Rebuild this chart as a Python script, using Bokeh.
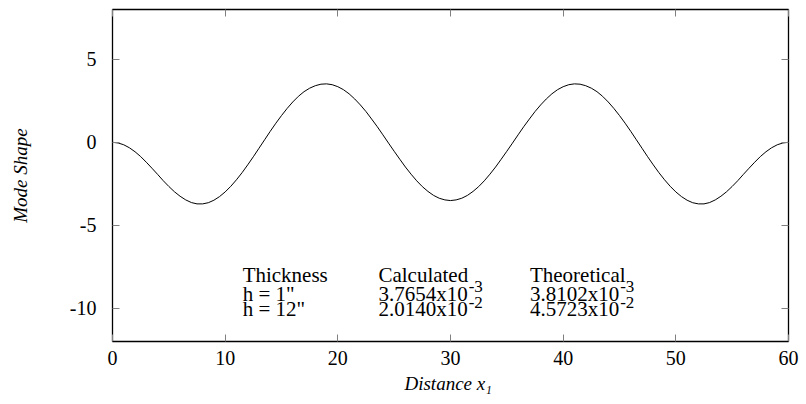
from bokeh.plotting import figure
from bokeh.models import Range1d, FixedTicker, LinearAxis, Label, CustomLabelingPolicy
from bokeh.embed import file_html
from bokeh.resources import INLINE

x_vals = [i * 0.5 for i in range(121)]
y_vals = [0.00, -0.04, -0.15, -0.33, -0.57, -0.86, -1.20, -1.56, -1.93, -2.31,
          -2.66, -2.98, -3.25, -3.47, -3.63, -3.71, -3.71, -3.64, -3.49, -3.27,
          -2.99, -2.65, -2.26, -1.83, -1.36, -0.87, -0.36, 0.15, 0.66, 1.15,
          1.61, 2.04, 2.43, 2.77, 3.05, 3.26, 3.41, 3.50, 3.52, 3.47,
          3.35, 3.17, 2.92, 2.61, 2.25, 1.85, 1.40, 0.94, 0.45, -0.05,
          -0.54, -1.02, -1.49, -1.92, -2.32, -2.67, -2.96, -3.20, -3.37, -3.47,
          -3.51,
          -3.47, -3.37, -3.20, -2.96, -2.67, -2.32, -1.92, -1.49, -1.02, -0.54,
          -0.05, 0.45, 0.94, 1.40, 1.85, 2.25, 2.61, 2.92, 3.17, 3.35,
          3.47, 3.52, 3.50, 3.41, 3.26, 3.05, 2.77, 2.43, 2.04, 1.61,
          1.15, 0.66, 0.15, -0.36, -0.87, -1.36, -1.83, -2.26, -2.65, -2.99,
          -3.27, -3.49, -3.64, -3.71, -3.71, -3.63, -3.47, -3.25, -2.98, -2.66,
          -2.31, -1.93, -1.56, -1.20, -0.86, -0.57, -0.33, -0.15, -0.04, 0.00]

x_ticks = [0, 10, 20, 30, 40, 50, 60]
x_tick_labels = ["0", "10", "20", "30", "40", "50", "60"]
y_ticks = [-10, -5, 0, 5]
y_tick_labels = ["-10", "-5", "0", "5"]

thickness_col = ["Thickness", 'h = 1"', 'h = 12"']
calc_header = "Calculated"
calc_mant = ["3.7654x10", "2.0140x10"]
calc_exp = ["-3", "-2"]
theo_header = "Theoretical"
theo_mant = ["3.8102x10", "4.5723x10"]
theo_exp = ["-3", "-2"]

# ---- styling / layout ----
FONT = "Liberation Serif"
TICK_FS = 20
LABEL_FS = 19
ANN_FS = 21
SUP_FS = 17
TICK_COLOR = "#808080"

p = figure(width=806, height=404, output_backend="svg", toolbar_location=None,
           x_range=Range1d(0, 60), y_range=Range1d(-12, 8),
           min_border_left=112, min_border_right=18, min_border_top=9,
           min_border_bottom=63)
p.background_fill_color = "white"
p.border_fill_color = "white"
p.outline_line_color = "black"
p.outline_line_width = 1.3
p.xgrid.visible = False
p.ygrid.visible = False

p.line(x_vals, y_vals, line_color="black", line_width=1.0)

def style_axis(ax, ticks, labels, show_labels=True):
    ax.ticker = FixedTicker(ticks=ticks)
    ax.major_tick_in = 7
    ax.major_tick_out = 0
    ax.major_tick_line_color = TICK_COLOR
    ax.major_tick_line_width = 1
    ax.minor_tick_line_color = None
    ax.axis_line_color = None
    ax.major_label_text_font = FONT
    ax.major_label_text_font_style = "normal"
    ax.major_label_text_color = "black"
    if show_labels:
        ax.major_label_overrides = {t: l for t, l in zip(ticks, labels)}
        ax.major_label_text_font_size = f"{TICK_FS}px"
    else:
        # mirrored tick marks only: draw no labels at all
        ax.major_label_policy = CustomLabelingPolicy(code="return new Set()")
        ax.major_label_text_font_size = "0px"
        ax.major_label_standoff = 0

xa = p.xaxis[0]
style_axis(xa, x_ticks, x_tick_labels)
xa.major_label_standoff = 9
xa.axis_label = "Distance  x\u2081"
xa.axis_label_text_font = FONT
xa.axis_label_text_font_style = "italic"
xa.axis_label_text_font_size = f"{LABEL_FS}px"
xa.axis_label_text_color = "black"
xa.axis_label_standoff = 5

ya = p.yaxis[0]
style_axis(ya, y_ticks, y_tick_labels)
ya.major_label_standoff = 16
ya.major_label_orientation = "horizontal"
ya.axis_label = "Mode Shape"
ya.axis_label_text_font = FONT
ya.axis_label_text_font_style = "italic"
ya.axis_label_text_font_size = f"{LABEL_FS}px"
ya.axis_label_text_color = "black"
ya.axis_label_standoff = 36

top_ax = LinearAxis()
style_axis(top_ax, x_ticks, x_tick_labels, show_labels=False)
p.add_layout(top_ax, "above")
right_ax = LinearAxis()
style_axis(right_ax, y_ticks, y_tick_labels, show_labels=False)
p.add_layout(right_ax, "right")

# ---- annotation block ----
col_x = [11.55, 23.6, 37.05]
row_y = [-7.97, -9.11, -10.05]
SUP_RAISE = 7
MANT_EM = 4.25  # width of "d.ddddx10" in em for Times-metric fonts

def add_text(x, y, txt, size, x_off=0, y_off=0):
    p.add_layout(Label(x=x, y=y, text=txt, x_offset=x_off, y_offset=y_off,
                       text_font=FONT, text_font_size=f"{size}px",
                       text_color="black", text_align="left",
                       text_baseline="alphabetic"))

for i, t in enumerate(thickness_col):
    add_text(col_x[0], row_y[i], t, ANN_FS)

add_text(col_x[1], row_y[0], calc_header, ANN_FS)
add_text(col_x[2], row_y[0], theo_header, ANN_FS)
for i in range(2):
    add_text(col_x[1], row_y[i + 1], calc_mant[i], ANN_FS)
    add_text(col_x[1], row_y[i + 1], calc_exp[i], SUP_FS,
             x_off=MANT_EM * ANN_FS + 1, y_off=SUP_RAISE)
    add_text(col_x[2], row_y[i + 1], theo_mant[i], ANN_FS)
    add_text(col_x[2], row_y[i + 1], theo_exp[i], SUP_FS,
             x_off=MANT_EM * ANN_FS + 1, y_off=SUP_RAISE)

open("out.html", "w").write(file_html(p, INLINE))
